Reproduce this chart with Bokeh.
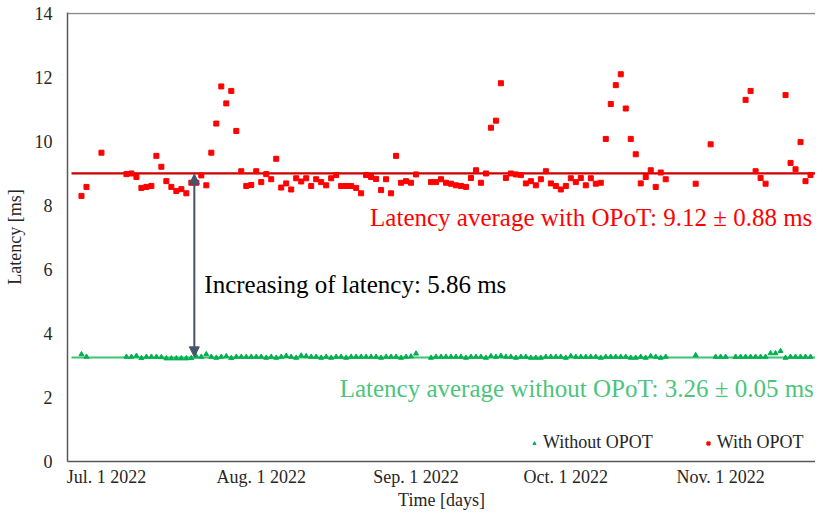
from bokeh.plotting import figure
from bokeh.models import Range1d, FixedTicker, Span, Arrow, NormalHead, Label, Legend, LegendItem
from bokeh.embed import file_html
from bokeh.resources import INLINE

# ---- data (day offsets from Jul. 1 2022, latency in ms) ----
with_days = [-5, -4, -1, 4, 5, 6, 7, 8, 9, 10, 11, 12, 13, 14, 15, 16, 17, 18, 19, 20,
             21, 22, 23, 24, 25, 26, 27, 28, 29, 30, 31, 32, 33, 34, 35, 36, 37, 38, 39, 40,
             41, 42, 43, 44, 45, 46, 47, 48, 49, 50, 51, 52, 53, 54, 55, 56, 57, 58, 59, 60,
             61, 62, 65, 66, 67, 68, 69, 70, 71, 72, 73, 74, 75, 76, 77, 78, 79, 80, 81, 82,
             83, 84, 85, 86, 87, 88, 89, 90, 91, 92, 93, 94, 95, 96, 97, 98, 99, 100, 101, 102,
             103, 104, 105, 106, 107, 108, 109, 110, 111, 112, 118, 121, 128, 129, 130, 131, 132,
             136, 137, 138, 139, 140, 141]
with_lat = [8.30, 8.58, 9.65, 8.98, 9.00, 8.89, 8.55, 8.58, 8.61, 9.55, 9.21, 8.76, 8.58, 8.45, 8.51, 8.38, 8.71, 8.71, 8.94, 8.63,
            9.65, 10.56, 11.72, 11.19, 11.58, 10.33, 9.07, 8.61, 8.64, 9.07, 8.73, 8.98, 8.82, 9.46, 8.56, 8.69, 8.50, 8.85, 8.75, 8.85,
            8.61, 8.82, 8.73, 8.63, 8.85, 8.95, 8.61, 8.61, 8.61, 8.55, 8.38, 8.95, 8.89, 8.83, 8.48, 8.82, 8.38, 9.55, 8.71, 8.76,
            8.71, 8.97, 8.73, 8.73, 8.82, 8.71, 8.68, 8.63, 8.61, 8.58, 8.86, 9.10, 8.71, 9.00, 10.43, 10.65, 11.82, 8.86, 9.00, 8.97,
            8.95, 8.69, 8.76, 8.63, 8.82, 9.07, 8.69, 8.61, 8.50, 8.61, 8.85, 8.73, 8.86, 8.63, 8.85, 8.68, 8.71, 10.08, 11.17, 11.76,
            12.10, 11.03, 10.08, 9.60, 8.69, 8.89, 9.10, 8.58, 9.03, 8.82, 8.68, 9.91, 11.30, 11.58, 9.07, 8.86, 8.68,
            11.45, 9.33, 9.13, 9.98, 8.76, 8.95]

without_days = [-5, -4, 4, 5, 6, 7, 8, 9, 10, 11, 12, 13, 14, 15, 16, 17, 18, 19, 20,
                21, 22, 23, 24, 25, 26, 27, 28, 29, 30, 31, 32, 33, 34, 35, 36, 37, 38, 39, 40,
                41, 42, 43, 44, 45, 46, 47, 48, 49, 50, 51, 52, 53, 54, 55, 56, 57, 58, 59, 60,
                61, 62, 65, 66, 67, 68, 69, 70, 71, 72, 73, 74, 75, 76, 77, 78, 79, 80,
                81, 82, 83, 84, 85, 86, 87, 88, 89, 90, 91, 92, 93, 94, 95, 96, 97, 98, 99, 100,
                101, 102, 103, 104, 105, 106, 107, 108, 109, 110, 111, 112, 118, 122, 123, 124,
                126, 127, 128, 129, 130, 131, 132, 133, 134, 135, 136, 137, 138, 139, 140, 141]
without_lat = [3.35, 3.27, 3.27, 3.27, 3.30, 3.23, 3.27, 3.27, 3.27, 3.26, 3.22, 3.22, 3.22, 3.22, 3.22, 3.23, 3.28, 3.27, 3.35,
               3.27, 3.24, 3.27, 3.29, 3.23, 3.27, 3.27, 3.27, 3.27, 3.27, 3.27, 3.24, 3.27, 3.24, 3.27, 3.30, 3.27, 3.24, 3.31, 3.29,
               3.27, 3.27, 3.24, 3.27, 3.24, 3.27, 3.27, 3.24, 3.27, 3.27, 3.27, 3.27, 3.27, 3.27, 3.24, 3.27, 3.27, 3.27, 3.24, 3.27,
               3.28, 3.37, 3.24, 3.27, 3.27, 3.27, 3.27, 3.27, 3.27, 3.24, 3.27, 3.27, 3.27, 3.24, 3.29, 3.27, 3.30, 3.27,
               3.27, 3.24, 3.27, 3.27, 3.24, 3.24, 3.24, 3.27, 3.27, 3.27, 3.27, 3.24, 3.29, 3.27, 3.27, 3.27, 3.27, 3.27, 3.24, 3.27,
               3.27, 3.27, 3.27, 3.27, 3.24, 3.24, 3.27, 3.24, 3.29, 3.27, 3.24, 3.27, 3.32, 3.27, 3.27, 3.27,
               3.27, 3.27, 3.27, 3.27, 3.27, 3.27, 3.27, 3.38, 3.38, 3.45, 3.24, 3.27, 3.27, 3.27, 3.27, 3.27]

avg_with_line = 9.0
avg_without_line = 3.25
increase_text = "Increasing of latency: 5.86 ms"
with_text = "Latency average with OPoT: 9.12 \u00b1 0.88 ms"
without_text = "Latency average without OPoT: 3.26 \u00b1 0.05 ms"

tick_days = [0, 31, 62, 92, 123]
tick_labels = ["Jul. 1 2022", "Aug. 1 2022", "Sep. 1 2022", "Oct. 1 2022", "Nov. 1 2022"]
y_ticks = [0, 2, 4, 6, 8, 10, 12, 14]

FONT = "Liberation Serif"
RED = "#FF0000"
GREEN = "#00B050"

p = figure(width=815, height=512, output_backend="svg", toolbar_location=None,
           x_range=Range1d(-7.8, 142.0), y_range=Range1d(0, 14.03),
           min_border_left=67, min_border_right=0, min_border_top=12, min_border_bottom=40)
p.outline_line_color = None
p.xgrid.visible = False
p.ygrid.visible = False
p.background_fill_color = "white"
p.border_fill_color = "white"

# top border of the plot area
p.add_layout(Span(location=14, dimension="width", line_color="#8C8C8C", line_width=1.5))

# average lines
p.segment(x0=[-7.0], y0=[avg_with_line], x1=[150], y1=[avg_with_line], line_color="#CC0000", line_width=2.2)
p.segment(x0=[-7.0], y0=[avg_without_line], x1=[150], y1=[avg_without_line], line_color="#3CC473", line_width=1.8)

g = p.scatter(without_days, without_lat, marker="triangle", size=5, fill_color=GREEN, line_color=GREEN)
r = p.scatter(with_days, with_lat, marker="square", size=5, fill_color=RED, line_color=RED)

# arrow between averages
p.add_layout(Arrow(start=NormalHead(size=10, fill_color="#44546A", line_color="#44546A"),
                   end=NormalHead(size=10, fill_color="#44546A", line_color="#44546A"),
                   x_start=17.6, y_start=avg_with_line - 0.02, x_end=17.6, y_end=avg_without_line + 0.02,
                   line_color="#44546A", line_width=2))

p.add_layout(Label(x=19.6, y=5.54, text=increase_text, text_font=FONT, text_font_size="25px",
                   text_color="black", text_baseline="alphabetic"))
p.add_layout(Label(x=52.8, y=7.63, text=with_text, text_font=FONT, text_font_size="25px",
                   text_color=RED, text_baseline="alphabetic"))
p.add_layout(Label(x=46.7, y=2.29, text=without_text, text_font=FONT, text_font_size="25px",
                   text_color="#4CC47C", text_baseline="alphabetic"))

# axes
p.yaxis.ticker = FixedTicker(ticks=y_ticks)
p.xaxis.ticker = FixedTicker(ticks=tick_days)
p.xaxis.major_label_overrides = {d: lab for d, lab in zip(tick_days, tick_labels)}
for ax in (p.xaxis, p.yaxis):
    ax.axis_line_color = "#595959"
    ax.axis_line_width = 1.5
    ax.major_tick_line_color = None
    ax.minor_tick_line_color = None
    ax.major_tick_out = 0
    ax.major_tick_in = 0
    ax.minor_tick_out = 0
    ax.minor_tick_in = 0
    ax.major_label_text_font = FONT
    ax.major_label_text_font_size = "18px"
    ax.major_label_text_color = "#262626"
    ax.axis_label_text_font = FONT
    ax.axis_label_text_font_size = "18px"
    ax.axis_label_text_font_style = "normal"
    ax.axis_label_text_color = "#262626"
p.yaxis.axis_label = "Latency [ms]"
p.xaxis.axis_label = "Time [days]"
p.yaxis.major_label_standoff = 15
p.yaxis.axis_label_standoff = 7
p.xaxis.major_label_standoff = 5
p.xaxis.axis_label_standoff = 0

legend = Legend(items=[LegendItem(label="Without OPOT", renderers=[g]),
                       LegendItem(label="With OPOT", renderers=[r])],
                orientation="horizontal", location=(463, 8),
                border_line_color=None, background_fill_alpha=0,
                label_text_font=FONT, label_text_font_size="18px", label_text_color="#262626",
                glyph_width=8, glyph_height=18, label_standoff=5, spacing=51, padding=0, margin=0)
p.add_layout(legend)

open("out.html", "w").write(file_html(p, INLINE))
